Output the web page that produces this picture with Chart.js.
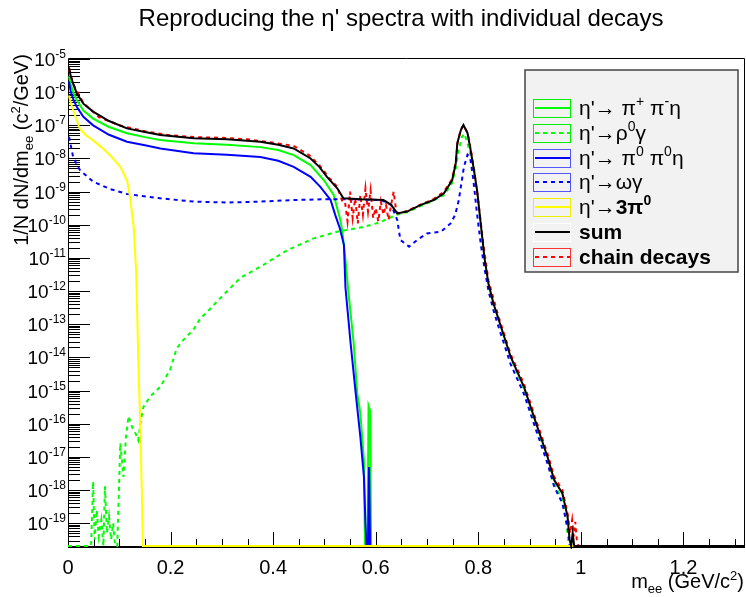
<!DOCTYPE html>
<html>
<head>
<meta charset="utf-8">
<script src="https://cdn.jsdelivr.net/npm/chart.js@4.4.1/dist/chart.umd.min.js"></script>
<style>
  html, body { margin: 0; padding: 0; background: #fff; }
  canvas { display: block; }
</style>
</head>
<body>
<canvas id="spectra" width="746" height="597"></canvas>
<script>
// axis range (ROOT pad)
const Y_MIN = 2.06e-20;
const Y_MAX = 1e-5;
const X_MAX = 1.32;

// eta' -> pi+ pi- eta
const pipEtaX = [0.002, 0.005, 0.01, 0.017, 0.03, 0.049, 0.08, 0.115, 0.15, 0.18, 0.245, 0.31, 0.375, 0.41, 0.44, 0.473, 0.499, 0.518, 0.531, 0.535, 0.541, 0.547, 0.557, 0.564, 0.57, 0.577, 0.579, 0.584, 0.586, 0.589, 0.591, 1.32];
const pipEtaY = [3.0e-6, 1.8e-6, 1.0e-6, 5.8e-7, 2.8e-7, 1.6e-7, 8.9e-8, 5.8e-8, 4.4e-8, 3.6e-8, 2.9e-8, 2.6e-8, 2.2e-8, 1.8e-8, 1.26e-8, 6.3e-9, 2.2e-9, 7.9e-10, 1.4e-10, 6.2e-11, 8.7e-12, 8.5e-13, 2.7e-14, 8.3e-16, 2.1e-16, 8.1e-18, 0, 0, 3.5e-16, 2.5e-16, 0, 0];

// eta' -> rho0 gamma
const rhoGX = [0, 0.045, 0.049, 0.052, 0.056, 0.06, 0.065, 0.069, 0.072, 0.076, 0.08, 0.084, 0.088, 0.092, 0.096, 0.102, 0.108, 0.113, 0.118, 0.125, 0.132, 0.137, 0.142, 0.147, 0.16, 0.18, 0.199, 0.212, 0.225, 0.245, 0.258, 0.276, 0.29, 0.336, 0.381, 0.427, 0.479, 0.525, 0.577, 0.609, 0.64, 0.661, 0.688, 0.713, 0.733, 0.749, 0.756, 0.762, 0.768, 0.773, 0.779, 0.785, 0.792, 0.798, 0.805, 0.812, 0.82, 0.83, 0.84, 0.863, 0.889, 0.915, 0.935, 0.948, 0.964, 0.972, 0.976, 0.978, 1.32];
const rhoGY = [0, 0, 1.8e-18, 3.2e-20, 2.5e-19, 4.0e-20, 1.26e-19, 0, 1.3e-18, 5.0e-20, 1.6e-19, 3.2e-20, 1.0e-19, 0, 0, 2.6e-17, 2.5e-18, 4.0e-17, 1.7e-16, 7.9e-17, 5.0e-17, 3.2e-17, 1.26e-16, 3.2e-16, 6.6e-16, 1.3e-15, 4.2e-15, 1.9e-14, 3.4e-14, 7.1e-14, 1.5e-13, 2.8e-13, 4.8e-13, 2.5e-12, 6.2e-12, 1.7e-11, 3.9e-11, 6.2e-11, 8.7e-11, 1.2e-10, 2.0e-10, 2.4e-10, 3.7e-10, 5.4e-10, 7.9e-10, 1.8e-9, 5.0e-9, 1.8e-8, 4.5e-8, 5.6e-8, 2.8e-8, 1.26e-8, 3.2e-9, 7.9e-10, 1.0e-10, 1.0e-11, 1.26e-12, 3.5e-13, 1.26e-13, 1.0e-14, 1.1e-15, 7.1e-17, 8.9e-18, 1.6e-18, 5.0e-19, 1.0e-19, 2.5e-20, 0, 0];

// eta' -> pi0 pi0 eta
const pi0EtaX = [0.002, 0.005, 0.01, 0.017, 0.03, 0.049, 0.08, 0.115, 0.15, 0.18, 0.245, 0.31, 0.375, 0.41, 0.44, 0.473, 0.492, 0.512, 0.521, 0.53, 0.538, 0.541, 0.551, 0.561, 0.57, 0.577, 0.58, 0.582, 0.585, 0.587, 0.589, 1.32];
const pi0EtaY = [2.1e-6, 1.1e-6, 6.3e-7, 3.6e-7, 1.8e-7, 1.0e-7, 5.2e-8, 3.2e-8, 2.5e-8, 2.0e-8, 1.45e-8, 1.3e-8, 1.1e-8, 8.5e-9, 5.6e-9, 2.8e-9, 1.4e-9, 5.6e-10, 2.0e-10, 7.9e-11, 2.5e-11, 1.26e-12, 2.7e-14, 8.3e-16, 4.1e-17, 2.5e-18, 1.0e-19, 0, 0, 5.0e-18, 0, 0];

// eta' -> omega gamma
const omegaGX = [0.002, 0.01, 0.023, 0.049, 0.082, 0.115, 0.18, 0.245, 0.31, 0.375, 0.44, 0.505, 0.54, 0.61, 0.63, 0.642, 0.648, 0.656, 0.665, 0.681, 0.7, 0.727, 0.746, 0.755, 0.762, 0.772, 0.779, 0.784, 0.79, 0.797, 0.805, 0.812, 0.82, 0.83, 0.84, 0.863, 0.889, 0.915, 0.935, 0.948, 0.964, 0.972, 0.976, 0.978, 1.32];
const omegaGY = [4.5e-8, 1.1e-8, 4.5e-9, 2.0e-9, 1.2e-9, 8.5e-10, 6.3e-10, 5.0e-10, 4.7e-10, 5.0e-10, 5.6e-10, 5.9e-10, 5.9e-10, 5.6e-10, 4.0e-10, 1.4e-10, 3.5e-11, 2.8e-11, 2.2e-11, 3.5e-11, 5.5e-11, 6.2e-11, 1.1e-10, 2.0e-10, 5.6e-10, 5.6e-9, 1.3e-8, 1.1e-8, 2.5e-9, 2.5e-10, 2.5e-11, 5.0e-12, 1.0e-12, 2.5e-13, 7.9e-14, 6.3e-15, 7.9e-16, 5.0e-17, 6.3e-18, 1.26e-18, 4.0e-19, 1.0e-19, 5.0e-20, 0, 0];

// eta' -> 3 pi0
const threePiX = [0.002, 0.005, 0.01, 0.023, 0.035, 0.049, 0.065, 0.082, 0.102, 0.115, 0.121, 0.128, 0.133, 0.134, 0.137, 0.141, 0.144, 0.146, 1.32];
const threePiY = [7.9e-7, 5.0e-7, 2.9e-7, 7.9e-8, 5.0e-8, 3.5e-8, 2.2e-8, 1.26e-8, 5.6e-9, 2.2e-9, 7.1e-10, 8.7e-11, 3.5e-12, 8.5e-13, 8.3e-15, 8.1e-17, 7.9e-19, 0, 0];

// sum
const sumX = [0.002, 0.005, 0.01, 0.017, 0.03, 0.049, 0.08, 0.115, 0.15, 0.18, 0.245, 0.31, 0.375, 0.41, 0.44, 0.473, 0.49, 0.505, 0.525, 0.537, 0.57, 0.615, 0.63, 0.642, 0.661, 0.688, 0.713, 0.733, 0.749, 0.756, 0.759, 0.766, 0.771, 0.779, 0.785, 0.792, 0.798, 0.805, 0.812, 0.82, 0.83, 0.84, 0.863, 0.889, 0.915, 0.935, 0.948, 0.964, 0.974, 0.978, 0.981, 0.984, 0.987, 0.99, 1.32];
const sumY = [5.6e-6, 3.2e-6, 1.8e-6, 9.3e-7, 4.5e-7, 2.6e-7, 1.35e-7, 8.1e-8, 6.3e-8, 5.1e-8, 4.1e-8, 3.8e-8, 3.2e-8, 2.6e-8, 2.0e-8, 1.0e-8, 5.6e-9, 2.8e-9, 1.26e-9, 6.3e-10, 5.9e-10, 5.6e-10, 4.0e-10, 2.2e-10, 2.5e-10, 4.0e-10, 5.6e-10, 8.9e-10, 2.2e-9, 7.1e-9, 2.9e-8, 7.2e-8, 1.02e-7, 5.8e-8, 1.8e-8, 4.0e-9, 1.0e-9, 1.0e-10, 1.0e-11, 1.6e-12, 4.0e-13, 1.35e-13, 1.05e-14, 1.3e-15, 8.1e-17, 1.0e-17, 2.0e-18, 7.9e-19, 1.6e-19, 3.2e-20, 0, 5.0e-20, 0, 0, 0];

// chain decays
const chainX = [0.002, 0.01, 0.03, 0.06, 0.1, 0.15, 0.2, 0.25, 0.3, 0.35, 0.4, 0.44, 0.47, 0.49, 0.51, 0.525, 0.535, 0.54, 0.545, 0.55, 0.555, 0.56, 0.565, 0.57, 0.575, 0.58, 0.585, 0.59, 0.595, 0.6, 0.605, 0.61, 0.615, 0.62, 0.625, 0.63, 0.635, 0.64, 0.645, 0.66, 0.69, 0.713, 0.733, 0.749, 0.756, 0.76, 0.766, 0.771, 0.779, 0.785, 0.792, 0.8, 0.81, 0.82, 0.84, 0.863, 0.889, 0.915, 0.935, 0.948, 0.964, 0.974, 0.979, 0.983, 0.986, 0.989, 0.992, 0.995, 1.32];
const chainY = [5.0e-6, 1.78e-6, 4.7e-7, 1.78e-7, 1.0e-7, 6.6e-8, 5.0e-8, 4.4e-8, 4.2e-8, 3.8e-8, 3.0e-8, 2.4e-8, 1.26e-8, 6.3e-9, 2.5e-9, 1.4e-9, 5.0e-10, 5.0e-10, 1.26e-10, 1.0e-9, 1.6e-10, 6.3e-10, 1.1e-10, 7.9e-10, 2.0e-10, 1.26e-9, 2.5e-10, 1.1e-9, 1.6e-10, 3.2e-10, 1.26e-10, 5.0e-10, 2.0e-10, 4.0e-10, 1.4e-10, 4.0e-10, 1.0e-9, 2.5e-10, 2.2e-10, 2.6e-10, 4.2e-10, 6.0e-10, 1.0e-9, 2.4e-9, 7.9e-9, 3.2e-8, 7.6e-8, 1.0e-7, 6.0e-8, 2.0e-8, 4.5e-9, 5.0e-10, 2.5e-11, 2.0e-12, 1.6e-13, 1.26e-14, 1.6e-15, 1.0e-16, 1.26e-17, 2.5e-18, 1.0e-18, 2.0e-19, 5.0e-20, 1.26e-19, 4.0e-20, 1.1e-19, 3.2e-20, 0, 0];

const xTickLabels = ["0", "0.2", "0.4", "0.6", "0.8", "1", "1.2"];
const FONT = '"Liberation Sans", Arial, Helvetica, sans-serif';

// empty bins are drawn on the lower edge, like ROOT does
const toPoints = (xs, ys) => xs.map((x, i) => ({ x: x, y: ys[i] || Y_MIN }));

function histLine(label, xs, ys, color, dashed, order) {
  return {
    label: label,
    data: toPoints(xs, ys),
    borderColor: color,
    borderWidth: 2,
    borderDash: dashed ? [4, 4] : [],
    pointRadius: 0,
    tension: 0,
    fill: false,
    order: order,
    clip: { left: 0, top: 0, right: 2, bottom: 3 },
  };
}

// legend entries: rich text parts [text, style]
const legendItems = [
  { color: "#00ff00", dashed: false, box: "#00ee00", parts: [["η'→ π", ""], ["+", "sup"], [" π", ""], ["-", "sup"], ["η", ""]] },
  { color: "#00ff00", dashed: true, box: "#00ee00", parts: [["η'→ρ", ""], ["0", "sup"], ["γ", ""]] },
  { color: "#0000ff", dashed: false, box: "#5555ff", parts: [["η'→ π", ""], ["0", "sup"], [" π", ""], ["0", "sup"], ["η", ""]] },
  { color: "#0000ff", dashed: true, box: "#5555ff", parts: [["η'→ωγ", ""]] },
  { color: "#ffff00", dashed: false, box: "#eeee00", parts: [["η'→", ""], ["3π", "b"], ["0", "supb"]] },
  { color: "#000000", dashed: false, box: "#ffffff", parts: [["sum", "b"]] },
  { color: "#ff0000", dashed: true, box: "#ff3333", parts: [["chain decays", "b"]] },
];

function fontFor(style, size) {
  const small = style.indexOf("sup") === 0 || style === "sub";
  const bold = style.indexOf("b") >= 0 && style !== "sub" && style !== "sup" ? "bold " : "";
  return bold + Math.round(small ? size * 0.65 : size) + "px " + FONT;
}

function drawRich(ctx, parts, x, y, size, align) {
  let w = 0;
  parts.forEach(([t, s]) => { ctx.font = fontFor(s, size); w += ctx.measureText(t).width; });
  let cx = align === "right" ? x - w : align === "center" ? x - w / 2 : x;
  ctx.textAlign = "left";
  ctx.textBaseline = "alphabetic";
  parts.forEach(([t, s]) => {
    ctx.font = fontFor(s, size);
    const dy = s.indexOf("sup") === 0 ? -size * 0.42 : s === "sub" ? size * 0.25 : 0;
    ctx.fillText(t, cx, y + dy);
    cx += ctx.measureText(t).width;
  });
}

const rootFrame = {
  id: "rootFrame",
  // frame and ticks under the histograms
  beforeDatasetsDraw(chart) {
    const { ctx, chartArea: a, scales } = chart;
    const xs = scales.x, ys = scales.y;
    ctx.save();
    ctx.strokeStyle = "#000";
    ctx.lineWidth = 1;

    ctx.beginPath();
    ctx.moveTo(a.left + 0.5, a.bottom + 0.5);
    ctx.lineTo(a.left + 0.5, a.top - 0.5);
    ctx.lineTo(a.right - 0.5, a.top - 0.5);
    ctx.lineTo(a.right - 0.5, a.bottom + 0.5);
    ctx.stroke();

    // y ticks
    ctx.beginPath();
    for (let e = -20; e <= -5; e++) {
      for (let k = 1; k <= 9; k++) {
        const v = k * Math.pow(10, e);
        if (v < Y_MIN * 0.999 || v > Y_MAX * 1.001) continue;
        const py = Math.round(ys.getPixelForValue(v)) + 0.5;
        const len = k === 1 ? 22 : 12;
        ctx.moveTo(a.left, py);
        ctx.lineTo(a.left + len, py);
      }
    }
    ctx.stroke();

    // x ticks
    ctx.beginPath();
    for (let i = 0; i <= 26; i++) {
      const px = Math.round(xs.getPixelForValue(i * 0.05)) + 0.5;
      const len = i % 4 === 0 ? 14 : 7;
      ctx.moveTo(px, a.bottom);
      ctx.lineTo(px, a.bottom - len);
    }
    ctx.stroke();

    ctx.lineWidth = 2;
    ctx.beginPath();
    ctx.moveTo(a.left, a.bottom + 1);
    ctx.lineTo(a.right, a.bottom + 1);
    ctx.stroke();
    ctx.restore();
  },
  afterDraw(chart) {
    const { ctx, scales } = chart;
    const xs = scales.x, ys = scales.y;
    ctx.save();
    ctx.fillStyle = "#000";

    // y tick labels 10^e
    for (let e = -19; e <= -5; e++) {
      const py = ys.getPixelForValue(Math.pow(10, e));
      drawRich(ctx, [["10", ""], [String(e), "sup"]], 66, py + 7, 19, "right");
    }

    // x tick labels
    xTickLabels.forEach((lab, i) => {
      const px = xs.getPixelForValue(i * 0.2);
      ctx.font = "20px " + FONT;
      ctx.textAlign = "center";
      ctx.textBaseline = "alphabetic";
      ctx.fillText(lab, px, 574);
    });

    // title
    ctx.font = "24px " + FONT;
    ctx.textAlign = "center";
    ctx.fillText("Reproducing the η' spectra with individual decays", 401, 26);

    // axis titles
    drawRich(ctx, [["m", ""], ["ee", "sub"], [" (GeV/c", ""], ["2", "sup"], [")", ""]], 744, 588, 20, "right");
    ctx.save();
    ctx.translate(28, 150);
    ctx.rotate(-Math.PI / 2);
    drawRich(ctx, [["1/N dN/dm", ""], ["ee", "sub"], [" (c", ""], ["2", "sup"], ["/GeV)", ""]], 0, 0, 20, "center");
    ctx.restore();

    // legend
    ctx.fillStyle = "#f2f2f2";
    ctx.fillRect(525, 70, 213, 202);
    ctx.strokeStyle = "#444";
    ctx.lineWidth = 1.5;
    ctx.strokeRect(525, 70, 213, 202);
    legendItems.forEach((it, i) => {
      const cy = 108 + i * 24.8;
      ctx.lineWidth = 1;
      ctx.strokeStyle = it.box;
      ctx.setLineDash([]);
      ctx.strokeRect(533.5, Math.round(cy - 9) + 0.5, 37, 18);
      ctx.strokeStyle = it.color;
      ctx.lineWidth = 2;
      ctx.setLineDash(it.dashed ? [4, 4] : []);
      ctx.beginPath();
      ctx.moveTo(535, Math.round(cy));
      ctx.lineTo(570, Math.round(cy));
      ctx.stroke();
      ctx.setLineDash([]);
      ctx.fillStyle = "#000";
      drawRich(ctx, it.parts, 579, cy + 7, 21, "left");
    });
    ctx.restore();
  },
};

const ctx = document.getElementById("spectra");
const spectraChart = new Chart(ctx, {
  type: "line",
  data: {
    datasets: [
      histLine("sum", sumX, sumY, "#000000", false, 0),
      histLine("chain decays", chainX, chainY, "#ff0000", true, 1),
      histLine("η'→3π0", threePiX, threePiY, "#ffff00", false, 2),
      histLine("η'→ωγ", omegaGX, omegaGY, "#0000ff", true, 3),
      histLine("η'→π0π0η", pi0EtaX, pi0EtaY, "#0000ff", false, 4),
      histLine("η'→ρ0γ", rhoGX, rhoGY, "#00ff00", true, 5),
      histLine("η'→π+π-η", pipEtaX, pipEtaY, "#00ff00", false, 6),
    ],
  },
  options: {
    responsive: false,
    animation: false,
    layout: { padding: { left: 68, top: 59, right: 1, bottom: 51 } },
    plugins: {
      legend: { display: false },
      tooltip: { enabled: false },
      title: { display: false },
    },
    scales: {
      x: { type: "linear", min: 0, max: X_MAX, display: false },
      y: { type: "logarithmic", min: Y_MIN, max: Y_MAX, display: false },
    },
  },
  plugins: [rootFrame],
});
</script>
</body>
</html>
